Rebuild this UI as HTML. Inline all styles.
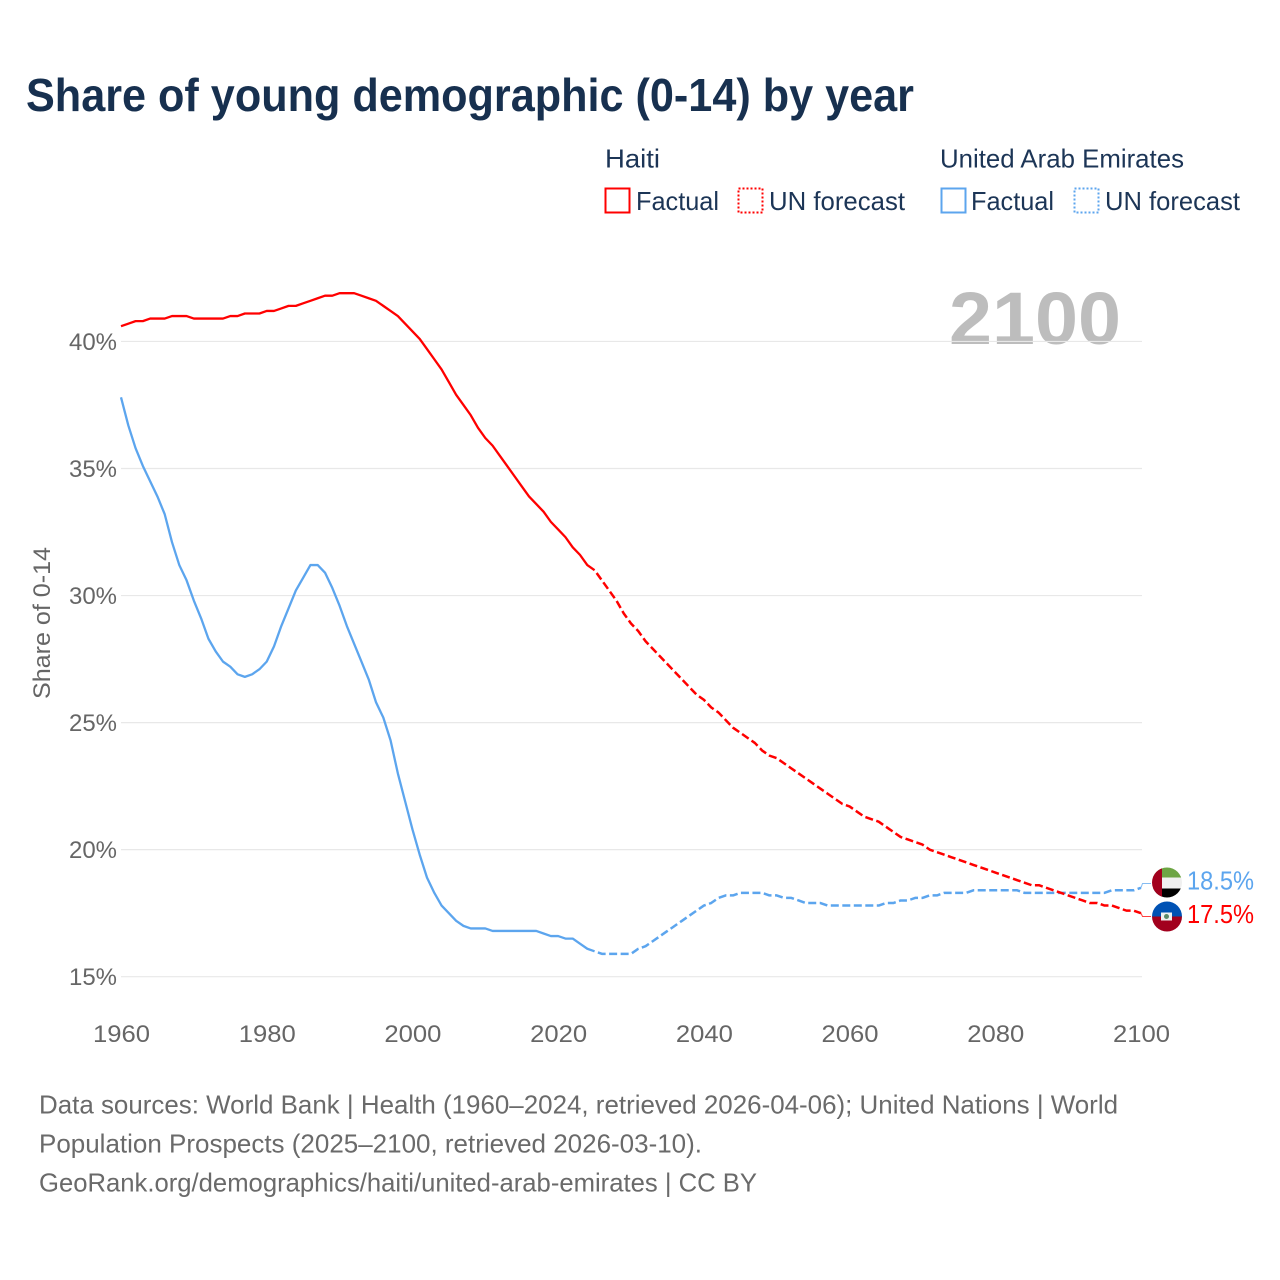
<!DOCTYPE html>
<html lang="en">
<head>
<meta charset="utf-8">
<title>Share of young demographic (0-14) by year</title>
<style>
html,body{margin:0;padding:0;background:#fff;width:1280px;height:1280px;overflow:hidden}
svg{display:block}
text{font-family:"Liberation Sans",sans-serif}
</style>
</head>
<body>
<svg id="chart" xmlns="http://www.w3.org/2000/svg" width="1280" height="1280" viewBox="0 0 1280 1280">
  <defs>
    <clipPath id="clip-uae"><circle cx="1167" cy="882.5" r="15"/></clipPath>
    <clipPath id="clip-haiti"><circle cx="1167" cy="916.5" r="15"/></clipPath>
  </defs>
  <rect x="0" y="0" width="1280" height="1280" fill="#fff"/>
  <text x="26" y="111" font-size="46" font-weight="700" fill="#17304f" textLength="888" lengthAdjust="spacingAndGlyphs">Share of young demographic (0-14) by year</text>

  <g font-size="26" fill="#1c3556">
    <text x="605" y="167.500" textLength="55" lengthAdjust="spacingAndGlyphs">Haiti</text>
    <rect x="605.500" y="188.500" width="24" height="24" fill="none" stroke="#ff0000" stroke-width="2"/>
    <text x="636" y="210" textLength="83" lengthAdjust="spacingAndGlyphs">Factual</text>
    <rect x="738.500" y="188.500" width="24" height="24" fill="none" stroke="#ff0000" stroke-width="2" stroke-dasharray="2 2"/>
    <text x="769" y="210" textLength="136" lengthAdjust="spacingAndGlyphs">UN forecast</text>
    <text x="940" y="167.500" textLength="244" lengthAdjust="spacingAndGlyphs">United Arab Emirates</text>
    <rect x="941.500" y="188.500" width="24" height="24" fill="none" stroke="#5ca5ee" stroke-width="2"/>
    <text x="971" y="210" textLength="83" lengthAdjust="spacingAndGlyphs">Factual</text>
    <rect x="1074.500" y="188.500" width="24" height="24" fill="none" stroke="#5ca5ee" stroke-width="2" stroke-dasharray="2 2"/>
    <text x="1105" y="210" textLength="135" lengthAdjust="spacingAndGlyphs">UN forecast</text>
  </g>

  <text x="949" y="344" font-size="74" font-weight="700" fill="#bdbdbd" textLength="172" lengthAdjust="spacingAndGlyphs">2100</text>

  <g id="grid-layer"></g>
  <g id="tick-layer"></g>
  <text transform="translate(50,623) rotate(-90)" text-anchor="middle" font-size="24" fill="#666" textLength="152" lengthAdjust="spacingAndGlyphs">Share of 0-14</text>
  <g id="series-layer"></g>

  <g>
    <g clip-path="url(#clip-uae)">
      <rect x="1152" y="867" width="30" height="10.500" fill="#6da544"/>
      <rect x="1152" y="877.500" width="30" height="11" fill="#f0f0f0"/>
      <rect x="1152" y="888.500" width="30" height="10" fill="#000"/>
      <rect x="1152" y="867" width="10" height="31" fill="#a2001d"/>
    </g>
  </g>
  <g>
    <g clip-path="url(#clip-haiti)">
      <rect x="1152" y="901" width="30" height="15.500" fill="#0052b4"/>
      <rect x="1152" y="916.500" width="30" height="16" fill="#a2001d"/>
      <rect x="1161" y="912.500" width="11" height="8" fill="#f0f0f0"/>
      <circle cx="1166.500" cy="916.500" r="2.500" fill="#5a8a6a"/>
    </g>
  </g>
  <text id="end-label-uae" x="1187" y="889.500" font-size="26" fill="#5ca5ee" textLength="67" lengthAdjust="spacingAndGlyphs"></text>
  <text id="end-label-haiti" x="1187" y="923" font-size="26" fill="#ff0000" textLength="67" lengthAdjust="spacingAndGlyphs"></text>

  <g font-size="26" fill="#6a6a6a">
    <text x="39" y="1113.500" textLength="1079" lengthAdjust="spacingAndGlyphs">Data sources: World Bank | Health (1960–2024, retrieved 2026-04-06); United Nations | World</text>
    <text x="39" y="1152.500" textLength="663" lengthAdjust="spacingAndGlyphs">Population Prospects (2025–2100, retrieved 2026-03-10).</text>
    <text x="39" y="1191.500" textLength="718" lengthAdjust="spacingAndGlyphs">GeoRank.org/demographics/haiti/united-arab-emirates | CC BY</text>
  </g>
</svg>

<script>
const startYear = 1960;
const lastFactualYear = 2025;
const xTicks = [1960, 1980, 2000, 2020, 2040, 2060, 2080, 2100];
const yTicks = [15, 20, 25, 30, 35, 40];
const haitiShare = [
  40.6,40.7,40.8,40.8,40.9,40.9,40.9,41.0,41.0,41.0,
  40.9,40.9,40.9,40.9,40.9,41.0,41.0,41.1,41.1,41.1,
  41.2,41.2,41.3,41.4,41.4,41.5,41.6,41.7,41.8,41.8,
  41.9,41.9,41.9,41.8,41.7,41.6,41.4,41.2,41.0,40.7,
  40.4,40.1,39.7,39.3,38.9,38.4,37.9,37.5,37.1,36.6,
  36.2,35.9,35.5,35.1,34.7,34.3,33.9,33.6,33.3,32.9,
  32.6,32.3,31.9,31.6,31.2,31.0,30.6,30.2,29.8,29.3,
  28.9,28.6,28.2,27.9,27.6,27.3,27.0,26.7,26.4,26.1,
  25.9,25.6,25.4,25.1,24.8,24.6,24.4,24.2,23.9,23.7,
  23.6,23.4,23.2,23.0,22.8,22.6,22.4,22.2,22.0,21.8,
  21.7,21.5,21.3,21.2,21.1,20.9,20.7,20.5,20.4,20.3,
  20.2,20.0,19.9,19.8,19.7,19.6,19.5,19.4,19.3,19.2,
  19.1,19.0,18.9,18.8,18.7,18.6,18.6,18.5,18.4,18.3,
  18.2,18.1,18.0,17.9,17.9,17.8,17.8,17.7,17.6,17.6,
  17.5
];
const uaeShare = [
  37.8,36.7,35.8,35.1,34.5,33.9,33.2,32.1,31.2,30.6,
  29.8,29.1,28.3,27.8,27.4,27.2,26.9,26.8,26.9,27.1,
  27.4,28.0,28.8,29.5,30.2,30.7,31.2,31.2,30.9,30.3,
  29.6,28.8,28.1,27.4,26.7,25.8,25.2,24.3,23.0,21.9,
  20.8,19.8,18.9,18.3,17.8,17.5,17.2,17.0,16.9,16.9,
  16.9,16.8,16.8,16.8,16.8,16.8,16.8,16.8,16.7,16.6,
  16.6,16.5,16.5,16.3,16.1,16.0,15.9,15.9,15.9,15.9,
  15.9,16.1,16.2,16.4,16.6,16.8,17.0,17.2,17.4,17.6,
  17.8,17.9,18.1,18.2,18.2,18.3,18.3,18.3,18.3,18.2,
  18.2,18.1,18.1,18.0,17.9,17.9,17.9,17.8,17.8,17.8,
  17.8,17.8,17.8,17.8,17.8,17.9,17.9,18.0,18.0,18.1,
  18.1,18.2,18.2,18.3,18.3,18.3,18.3,18.4,18.4,18.4,
  18.4,18.4,18.4,18.4,18.3,18.3,18.3,18.3,18.3,18.3,
  18.3,18.3,18.3,18.3,18.3,18.3,18.4,18.4,18.4,18.4,
  18.5
];

const NS = 'http://www.w3.org/2000/svg';
const RED = '#ff0000';
const BLUE = '#5ca5ee';
function xScale(year) { return 121 + (year - 1960) * 1020 / 140; }
function yScale(value) { return 976.7 - (value - 15) * 25.41; }
function pointsFor(values, fromYear, toYear) {
  const pts = [];
  values.forEach(function (v, i) {
    const year = startYear + i;
    if (year >= fromYear && year <= toYear) {
      pts.push(xScale(year).toFixed(2) + ',' + yScale(v).toFixed(2));
    }
  });
  return pts.join(' ');
}
function seriesLine(values, color, fromYear, toYear, dashed) {
  const el = document.createElementNS(NS, 'polyline');
  el.setAttribute('points', pointsFor(values, fromYear, toYear));
  el.setAttribute('fill', 'none');
  el.setAttribute('stroke', color);
  el.setAttribute('stroke-width', dashed ? '2.5' : '2.3');
  el.setAttribute('stroke-linejoin', 'round');
  if (dashed) {
    el.setAttribute('stroke-dasharray', '8 3.5');
    el.setAttribute('stroke-dashoffset', '8');
  }
  document.getElementById('series-layer').appendChild(el);
  return el;
}
function connector(values, color, flagY) {
  const lastYear = startYear + values.length - 1;
  const x = xScale(lastYear);
  const el = document.createElementNS(NS, 'polyline');
  el.setAttribute('points', x + ',' + yScale(values[values.length - 1]).toFixed(2) + ' ' + (x + 1.5) + ',' + flagY + ' ' + (x + 10) + ',' + flagY);
  el.setAttribute('fill', 'none');
  el.setAttribute('stroke', color);
  el.setAttribute('stroke-width', '1');
  el.setAttribute('opacity', '0.75');
  document.getElementById('series-layer').appendChild(el);
  return el;
}

yTicks.forEach(function (t) {
  const line = document.createElementNS(NS, 'line');
  
  
  line.setAttribute('x1', xScale(1960));
  line.setAttribute('x2', xScale(2100) + 1);
  line.setAttribute('y1', yScale(t));
  line.setAttribute('y2', yScale(t));
  line.setAttribute('stroke', '#e8e8e8');
  line.setAttribute('stroke-width', '1.2');
  document.getElementById('grid-layer').appendChild(line);

  const label = document.createElementNS(NS, 'text');
  
  
  label.setAttribute('x', 69);
  label.setAttribute('y', yScale(t) + 8.5);
  label.setAttribute('font-size', '24');
  label.setAttribute('fill', '#666');
  label.setAttribute('textLength', '48');
  label.setAttribute('lengthAdjust', 'spacingAndGlyphs');
  label.textContent = t + '%';
  document.getElementById('tick-layer').appendChild(label);
});

xTicks.forEach(function (t) {
  const label = document.createElementNS(NS, 'text');
  
  
  label.setAttribute('x', xScale(t) - 28);
  label.setAttribute('y', 1042);
  label.setAttribute('font-size', '24');
  label.setAttribute('fill', '#666');
  label.setAttribute('textLength', '57');
  label.setAttribute('lengthAdjust', 'spacingAndGlyphs');
  label.textContent = t;
  document.getElementById('tick-layer').appendChild(label);
});

const uaeFactual = seriesLine(uaeShare, BLUE, startYear, lastFactualYear, false);


const uaeForecast = seriesLine(uaeShare, BLUE, lastFactualYear, 2100, true);


const haitiFactual = seriesLine(haitiShare, RED, startYear, lastFactualYear, false);


const haitiForecast = seriesLine(haitiShare, RED, lastFactualYear, 2100, true);


const uaeConnector = connector(uaeShare, BLUE, 883.5);


const haitiConnector = connector(haitiShare, RED, 916.5);



document.getElementById('end-label-uae').textContent = uaeShare[uaeShare.length - 1].toFixed(1) + '%';
document.getElementById('end-label-haiti').textContent = haitiShare[haitiShare.length - 1].toFixed(1) + '%';
</script>
</body>
</html>
